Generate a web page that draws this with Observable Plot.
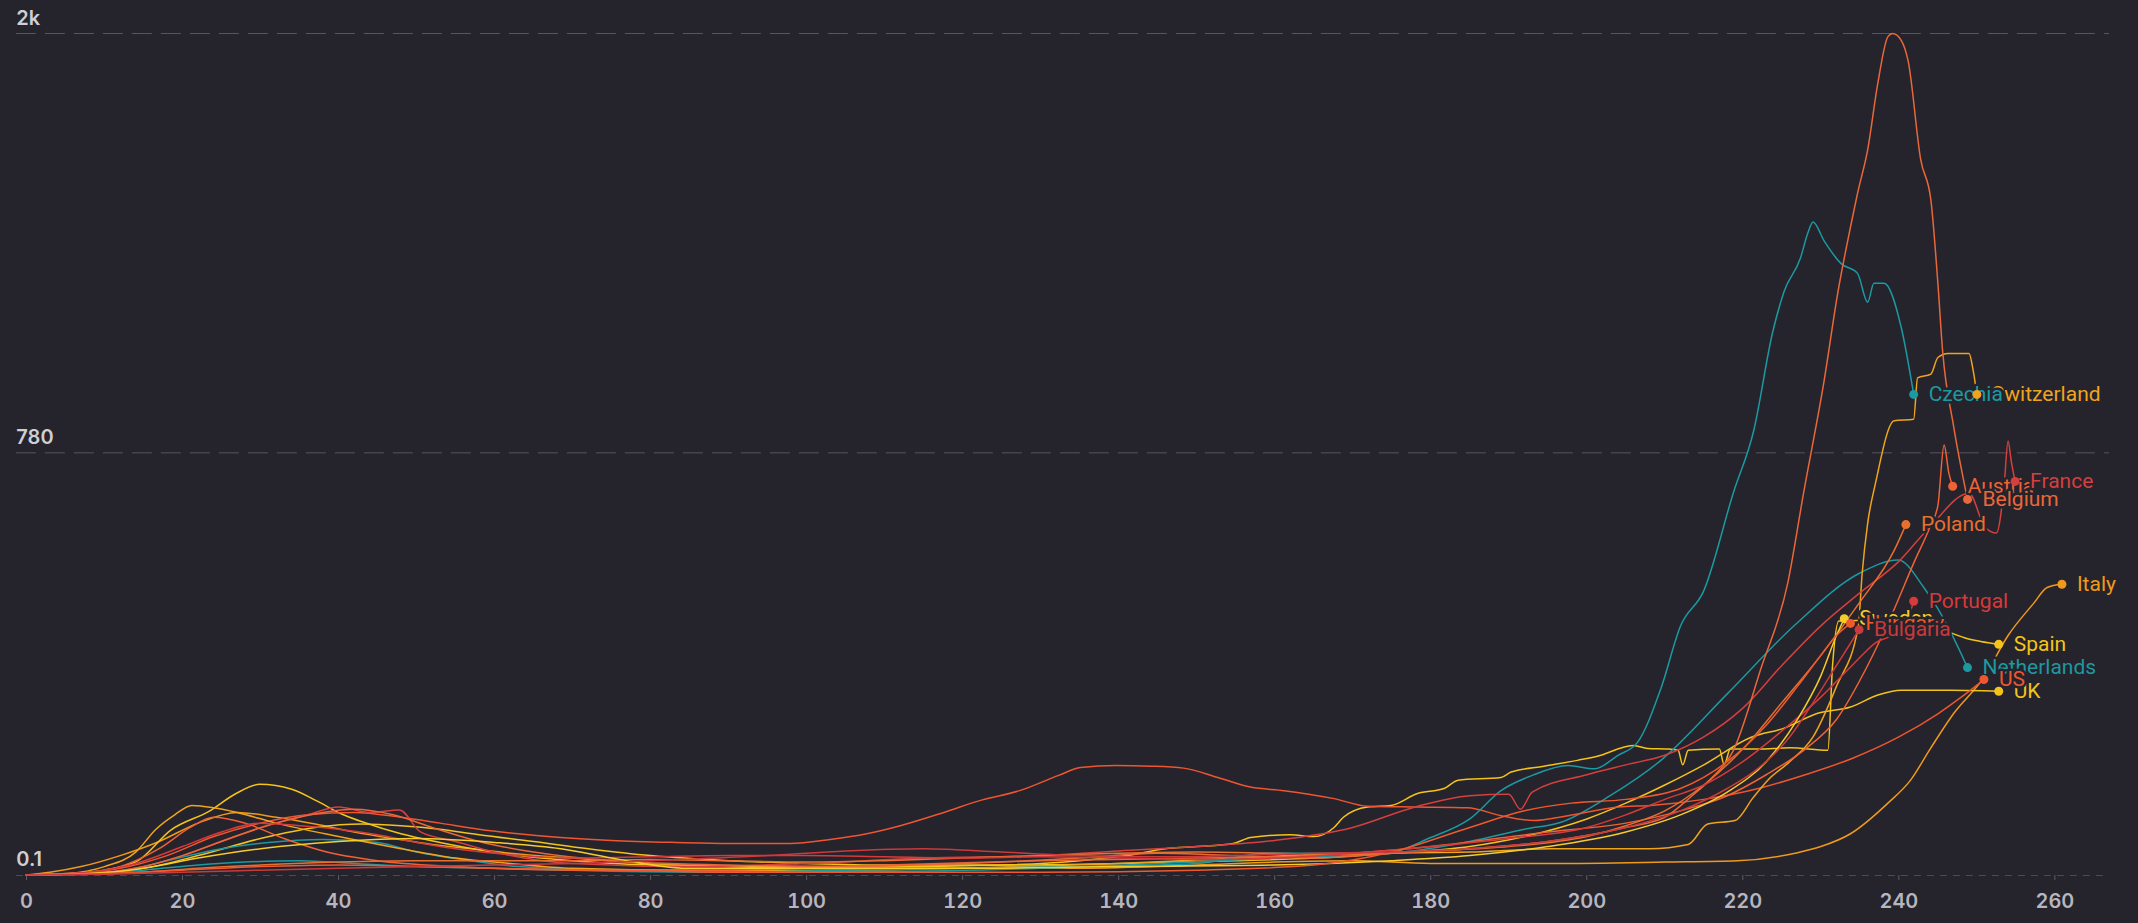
<!DOCTYPE html>
<html><head><meta charset="utf-8">
<script src="https://cdn.jsdelivr.net/npm/d3@7"></script>
<script src="https://cdn.jsdelivr.net/npm/@observablehq/plot@0.6"></script>
<style>
html,body{margin:0;padding:0;background:#25232b;overflow:hidden;}
#chart svg{display:block;}
</style></head><body><div id="chart"></div>
<script>
// draw order (labels drawn in this order, later ones cover earlier)
const countries = ["Italy","Spain","UK","Netherlands","US","Switzerland","Czechia","Austria","France","Belgium","Poland","Portugal","Sweden","Hungary","Bulgaria"];
const colors = {
  Italy:"#f09a1c", Spain:"#f4c41a", UK:"#f2c21d", Netherlands:"#1e98a0", US:"#ee5630",
  Switzerland:"#f0a41e", Czechia:"#1b9aa2", Austria:"#ef6236", France:"#d4403f", Belgium:"#e9683a",
  Poland:"#e8702e", Portugal:"#d63a3a", Sweden:"#f6cc2a", Hungary:"#ee5a2e", Bulgaria:"#c93a3c"
};
const xTicks = [0,20,40,60,80,100,120,140,160,180,200,220,240,260];
const yTicks = [0.1, 780, 2000];
const yTickLabels = ["0.1","780","2k"];

// [day, value]
const czechia = [[0,0.1],[8,0.5],[15,2],[22,5],[28,7],[35,8],[42,6],[50,4],[60,3],[75,1.5],[90,1],[105,2],[120,3],[135,4],[150,6],[159,14],[166,14],[174,14],[180,29],[185,50],[189,87],[193,109],[197.6,124],[201,119],[204,140],[206.5,161],[209.5,256],[212,379],[215,455],[218.8,682],[221.4,837],[223.8,1097],[225.3,1214],[227.4,1310],[228.3,1380],[229,1415],[230.4,1360],[232.6,1293],[234.7,1265],[236,1183],[236.8,1237],[238.1,1237],[240.3,1113],[241.9,931]];
const netherlands = [[0,0.1],[8,0.5],[14,3],[18,8],[25,18],[31,24],[38,27],[45,24],[50,15],[57,8],[63,4],[75,2],[90,1.5],[110,1.5],[130,3],[145,6],[160,10],[175,14],[185,25],[192,38],[196.7,46],[203,80],[209.5,132],[218,246],[226.5,379],[235,494],[239.9,523],[243.2,462],[245,416],[247.6,336],[248.8,296]];
const belgium = [[0,0.1],[8,0.5],[14,3],[20,12],[26,28],[32,45],[38,58],[42,62],[47,55],[52,40],[58,25],[65,15],[75,8],[90,5],[105,4],[120,6],[135,10],[145,14],[155,12],[165,10],[175,14],[185,18],[195,25],[205,40],[210,52],[213.5,80],[216,105],[218.8,148],[222.3,293],[225.8,475],[227.8,682],[230.4,965],[232.2,1213],[233.8,1400],[234.7,1500],[236,1632],[237.3,1840],[238.6,1990],[239.2,2000],[240.3,1978],[241.2,1910],[242.8,1602],[244.1,1481],[245,1237],[245.6,1050],[247,850],[248.8,665]];
const switzerland = [[0,0.1],[5,0.5],[10,4],[14,15],[16.6,38],[19,55],[21.2,67],[24,64],[27,58],[32,45],[40,30],[48,18],[55,10],[62,6],[70,3],[85,2],[100,2],[120,3],[140,6],[155,10],[170,14],[185,15],[195.4,18],[208,18],[213,22],[215.5,44],[219,48],[221.3,77],[223.2,102],[226,130],[229,170],[232,260],[234.8,379],[235.3,494],[236,608],[237,704],[239.4,862],[241.9,866],[242.4,975],[244.1,985],[245,1030],[246.3,1041],[249,1041],[249.5,998],[250,931]];
const austria = [[0,0.1],[6,0.5],[12,4],[17,18],[21,40],[24,52],[28,45],[33,28],[38,16],[45,8],[55,4],[70,2],[90,2],[110,5],[130,8],[150,10],[165,12],[180,20],[195,35],[205,45],[212,60],[218,80],[223,110],[228,150],[232,200],[236,300],[239,400],[242,520],[244,600],[245,650],[245.8,800],[246.4,730],[246.9,697]];
const france = [[0,0.1],[8,0.5],[15,4],[20,12],[25,25],[30,40],[36,55],[40,65],[44,58],[47.8,61],[50.5,35],[55,25],[60,15],[70,6],[85,4],[100,6],[115,10],[130,12],[140,16],[150,20],[160,26],[170,40],[178,65],[185,80],[190,82],[191.5,62],[193,85],[200,110],[205,125],[210,140],[215,170],[220,220],[225,300],[230,380],[235,450],[240,520],[244,600],[249,680],[251,600],[252.5,585],[253.5,700],[254,810],[254.4,760],[254.9,709]];
const poland = [[0,0.1],[8,0.3],[15,1],[22,3],[30,5],[40,7],[50,8],[60,8],[70,8],[80,9],[90,8],[100,7],[110,8],[120,10],[130,12],[140,14],[150,15],[160,14],[170,13],[180,16],[190,20],[200,30],[205,42],[210,60],[215,95],[220,150],[225,230],[230,320],[235,430],[239.4,545],[240.9,605]];
const portugal = [[0,0.1],[8,1],[14,6],[20,20],[25,35],[30,45],[35,42],[40,38],[45,32],[50,24],[55,18],[60,14],[70,10],[80,11],[90,12],[100,12],[110,11],[120,10],[130,11],[140,10],[150,9],[160,10],[170,14],[180,20],[190,28],[200,40],[205,55],[210,75],[215,95],[220,130],[225,180],[230,240],[234,300],[237,345],[240,370],[241.2,397],[241.9,432]];
const sweden = [[0,0.1],[8,0.5],[15,3],[22,10],[30,18],[40,25],[50,28],[60,24],[68.5,18],[76,9],[84.6,3],[100,3],[120,3],[140,4],[160,5],[175,8],[185,12],[195,20],[205,35],[212,55],[218,85],[223,130],[227,200],[230,280],[232,360],[233,395]];
const hungary = [[0,0.1],[10,0.5],[20,2],[30,4],[40,5],[50,4],[60,3],[75,2],[90,1],[110,1],[130,1],[150,2],[165,5],[175,15],[185,40],[192,60],[198,70],[205,75],[212,90],[218,130],[223,190],[227,260],[230,320],[232,360],[233.8,385]];
const bulgaria = [[0,0.1],[10,0.3],[20,1],[30,2],[40,3],[50,4],[60,5],[70,6],[80,8],[95,12],[105,16],[115,18],[125,15],[135,12],[145,11],[155,12],[165,14],[175,15],[185,18],[195,25],[205,40],[212,60],[218,90],[222,120],[226,170],[229,230],[232,300],[234.9,372]];
const italy = [[0,0.1],[3,1],[7,4],[12,12],[17,25],[22,45],[27,58],[32,52],[37,44],[42,35],[47,28],[52,22],[57,18],[62,14],[70,10],[80,6],[90,4],[100,3],[110,3],[120,3],[135,3],[150,5],[160,7],[170,8],[180,6],[195.4,6],[210,7],[219.3,8],[226.7,14],[230,20],[233.8,33],[238.6,70],[241.5,102],[244,150],[247,210],[250.9,277],[254,360],[257.3,428],[259,462],[260.9,469]];
const spain = [[0,0.1],[6,0.5],[10,2],[14.3,8],[18.5,37],[23.5,60],[26.7,82],[29.9,96],[34,89],[37.2,73],[40.4,56],[43.2,46],[48,33],[53,24],[58,17],[63,12],[70,8],[80,5],[95,4],[110,4],[125,5],[135,8],[141,12],[146,18],[150,20],[154.7,23],[156.9,29],[162,32],[165,30],[167.6,40],[168.8,52],[171.9,65],[174.9,67],[178.3,83],[181.7,90],[183.5,102],[189,106],[190.3,114],[194.5,123],[198.8,132],[201.8,140],[204.7,153],[206,156],[207.8,151],[210.5,150],[211.7,148],[212.3,125],[213,148],[217,150],[217.6,125],[218.4,150],[222,150],[226,152],[230.9,148],[231.5,300],[232.3,390],[236,392],[240,395],[244,385],[246,370],[248.5,355],[250.5,348],[252.8,342]];
const us = [[0,0.1],[6,0.5],[12,3],[18,12],[24,30],[30,45],[36,55],[42,58],[48,52],[53,45],[58,38],[63,33],[68.5,29],[75,26],[83.2,24],[90,23],[97.9,23],[103,27],[107.7,33],[112,42],[117.6,58],[122.4,74],[127.3,87],[132.3,109],[135.1,121],[139.6,124],[144.1,123],[148.3,120],[152.7,106],[156.9,92],[161.2,87],[167.6,76],[171.9,66],[178.3,65],[184.7,64],[189,54],[193.2,48],[197.6,54],[204,65],[208.2,67],[215,75],[222,90],[228,110],[234,135],[240,170],[245,210],[248,240],[250.9,273]];
const uk = [[0,0.1],[8,0.5],[15,3],[22,12],[30,28],[37,40],[43,44],[48,42],[53,38],[58,32],[65,25],[72,18],[80,12],[90,8],[100,6],[110,5],[125,5],[140,6],[155,8],[165,10],[175,14],[185,20],[192,30],[200,50],[205,70],[210,95],[215,125],[221,169],[225.3,185],[229.6,211],[233.8,222],[237.3,244],[240.3,253],[246.7,253],[250.9,252],[252.8,251]];

const seriesData = {Italy:italy, Spain:spain, UK:uk, Netherlands:netherlands, US:us, Switzerland:switzerland,
  Czechia:czechia, Austria:austria, France:france, Belgium:belgium, Poland:poland, Portugal:portugal,
  Sweden:sweden, Hungary:hungary, Bulgaria:bulgaria};

const rows = countries.flatMap(c => seriesData[c].map(([day, value]) => ({country: c, day, value})));
const ends = countries.map(c => { const s = seriesData[c]; const [day, value] = s[s.length - 1]; return {country: c, day, value}; });

const bg = "#25232b";
const chart = Plot.plot({
  width: 2138, height: 923,
  marginLeft: 26, marginRight: 29, marginTop: 33, marginBottom: 48,
  style: {background: bg, fontFamily: "Inter, 'Open Sans', sans-serif", overflow: "visible"},
  x: {domain: [0, 267], axis: null, label: null},
  y: {type: "pow", exponent: 0.732, domain: [0, 2000], axis: null, label: null},
  color: {domain: countries, range: countries.map(c => colors[c])},
  marks: [
    Plot.ruleY(yTicks.slice(1), {x1: -1.3, x2: 267, stroke: "#57555f", strokeDasharray: "20,9", strokeWidth: 1}),
    Plot.ruleY([0], {x1: -1.3, x2: 267, stroke: "#4c4a54", strokeDasharray: "7,6", strokeWidth: 1}),
    Plot.axisX({ticks: xTicks, label: null, tickSize: 5, tickPadding: 13, stroke: "#5d5b65", fill: "#b7b6be", fontSize: 20, fontWeight: 600}),
    Plot.text(yTicks, {x: -1.3, y: d => d, text: (d, i) => yTickLabels[i], textAnchor: "start", lineAnchor: "middle", dy: -15, fontSize: 20, fontWeight: 600, fill: "#cfced5"}),
    Plot.line(rows, {x: "day", y: "value", z: "country", stroke: "country", strokeWidth: 1.5, curve: "monotone-x"}),
    Plot.text(ends, {x: "day", y: "value", text: "country", fill: "country", stroke: bg, strokeWidth: 5, dx: 15, textAnchor: "start", lineAnchor: "middle", fontSize: 21, fontFamily: "Roboto, sans-serif"}),
    Plot.dot(ends, {x: "day", y: "value", fill: "country", r: 4.5})
  ]
});
document.getElementById("chart").append(chart);
</script>
</body></html>
